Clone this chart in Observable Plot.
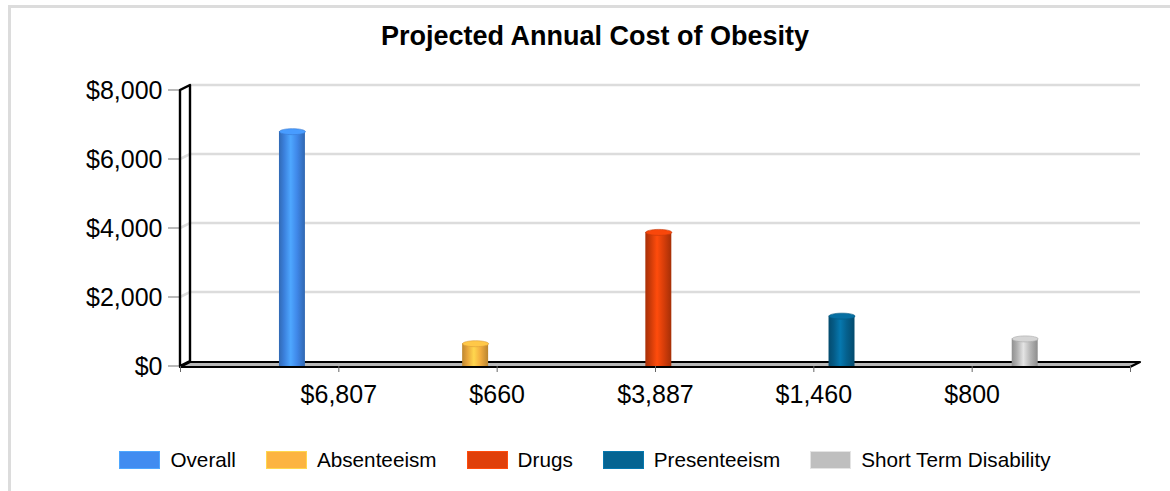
<!DOCTYPE html>
<html>
<head>
<meta charset="utf-8">
<script src="https://cdn.jsdelivr.net/npm/d3@7"></script>
<script src="https://cdn.jsdelivr.net/npm/@observablehq/plot@0.6"></script>
<style>
  body { margin: 0; background: #fff; font-family: Arial, "Liberation Sans", sans-serif; }
  #page { position: relative; width: 1170px; height: 491px; overflow: hidden; }
  #border { position: absolute; left: 8px; top: 5px; width: 1200px; height: 540px;
            border-top: 3px solid #dcdcdc; border-left: 3px solid #dcdcdc; pointer-events: none; }
  #title { position: relative; padding-top: 23px; padding-left: 20px; height: 27px; line-height: 27px;
           font-size: 27px; font-weight: bold; text-align: center; color: #000; }
  #chart svg { display: block; }
  #legend { position: relative; display: flex; justify-content: center; align-items: center;
            height: 20px; margin-top: 30px; font-size: 20.7px; color: #000; }
  .item { display: flex; align-items: center; margin-right: 30px; white-space: nowrap; }
  .item:last-child { margin-right: 0; }
  .swatch { width: 41px; height: 18px; margin-right: 10px; box-sizing: border-box; }
</style>
</head>
<body>
<div id="page">
  <div id="border"></div>
  <div id="title">Projected Annual Cost of Obesity</div>
  <div id="chart"></div>
  <div id="legend"></div>
</div>
<script>
// Cost components, one bar each
const series = ["Overall", "Absenteeism", "Drugs", "Presenteeism", "Short Term Disability"];
const costs = [6807, 660, 3887, 1460, 800];
const palette = ["#418CF0", "#FCB441", "#E0400A", "#056492", "#BFBFBF"];
const yTicks = [0, 2000, 4000, 6000, 8000];
const xTicks = [0, 1, 2, 3, 4, 5, 6];

const money = v => "$" + d3.format(",")(v);

// bar slots along the x axis and the cylinder half-width (in x units)
const slot = i => 0.707 + i * 1.157;
const half = 0.082;

const rows = series.map((name, i) => ({name, value: costs[i], pos: slot(i), color: palette[i]}));

// 3D depth offset of the back plane, in pixels
const DX = 10, DY = -5;

// horizontal shading for each cylinder
const gradients = () => {
  const defs = d3.create("svg:defs");
  palette.forEach((c, i) => {
    const g = defs.append("linearGradient").attr("id", `cyl-${i}`)
      .attr("x1", 0).attr("x2", 1).attr("y1", 0).attr("y2", 0);
    const base = d3.color(c);
    [[0, base.darker(0.8)], [0.2, base.darker(0.25)], [0.45, base.brighter(0.5)],
     [0.7, base.darker(0.1)], [1, base.darker(0.85)]]
      .forEach(([o, col]) => g.append("stop").attr("offset", o).attr("stop-color", col.formatHex()));
  });
  return defs.node();
};

// back wall, gridlines, y ticks and floor slab
const frame = (index, {x, y}) => {
  const g = d3.create("svg:g");
  const x0 = x(0), x1 = x(6), y0 = y(0), yT = y(8000);
  const wall = `${x0},${y0} ${x0},${yT} ${x0 + DX},${yT + DY} ${x0 + DX},${y0 + DY}`;
  g.append("polygon").attr("points", wall).attr("fill", "#fff");
  yTicks.forEach(t => {
    const yt = y(t);
    g.append("line").attr("x1", x0 - 12).attr("x2", x0).attr("y1", yt).attr("y2", yt)
      .attr("stroke", "#8a8a8a").attr("stroke-width", 1.2);
    if (t > 0) {
      g.append("polyline")
        .attr("points", `${x0},${yt} ${x0 + DX},${yt + DY} ${x1 + DX},${yt + DY}`)
        .attr("fill", "none").attr("stroke", "#dcdcdc").attr("stroke-width", 2.6);
    }
  });
  g.append("polygon").attr("points", wall).attr("fill", "none")
    .attr("stroke", "#000").attr("stroke-width", 2.4).attr("stroke-linejoin", "round");
  const fy = y0 + 1;
  g.append("polygon")
    .attr("points", `${x0},${fy} ${x1},${fy} ${x1 + DX},${fy + DY} ${x0 + DX},${fy + DY}`)
    .attr("fill", "#b8b8b8").attr("stroke", "#000").attr("stroke-width", 2.2)
    .attr("stroke-linejoin", "round");
  return g.node();
};

// flat ellipse used as the top face of each cylinder
const capSymbol = {
  draw(ctx) {
    const rx = 13, ry = 3, k = 0.5523;
    ctx.moveTo(-rx, 0);
    ctx.bezierCurveTo(-rx, -ry * k, -rx * k, -ry, 0, -ry);
    ctx.bezierCurveTo(rx * k, -ry, rx, -ry * k, rx, 0);
    ctx.bezierCurveTo(rx, ry * k, rx * k, ry, 0, ry);
    ctx.bezierCurveTo(-rx * k, ry, -rx, ry * k, -rx, 0);
    ctx.closePath();
  }
};

const chart = Plot.plot({
  width: 1170,
  height: 370,
  marginTop: 40,
  marginBottom: 54,
  marginLeft: 180,
  marginRight: 40,
  style: {fontFamily: 'Arial, "Liberation Sans", sans-serif', color: "#000", background: "transparent", overflow: "visible"},
  x: {domain: [0, 6], axis: null},
  y: {domain: [0, 8000], axis: null},
  marks: [
    gradients,
    frame,
    ...rows.map((d, i) => Plot.rect([d], {
      x1: r => r.pos - half, x2: r => r.pos + half, y1: 0, y2: "value",
      fill: `url(#cyl-${i})`
    })),
    ...rows.map(d => Plot.dot([d], {
      x: "pos", y: "value", symbol: capSymbol, r: 5,
      fill: d3.color(d.color).brighter(0.3).formatHex(),
      stroke: d3.color(d.color).darker(0.4).formatHex(), strokeWidth: 0.6
    })),
    Plot.axisY(yTicks, {
      label: null, tickSize: 0, tickPadding: 18, fontSize: 25, fill: "#000",
      tickFormat: money
    }),
    Plot.axisX(xTicks, {
      label: null, tickSize: 6, tickPadding: 13, fontSize: 25, fill: "#000", stroke: "#666",
      tickFormat: i => (i >= 1 && i <= costs.length) ? money(costs[i - 1]) : ""
    })
  ]
});
document.getElementById("chart").append(chart);

const legend = d3.select("#legend");
series.forEach((name, i) => {
  const item = legend.append("div").attr("class", "item");
  item.append("div").attr("class", "swatch")
    .style("background", palette[i])
    .style("border", `1px solid ${d3.color(palette[i]).brighter(0.5).formatHex()}`);
  item.append("span").text(name);
});
</script>
</body>
</html>
